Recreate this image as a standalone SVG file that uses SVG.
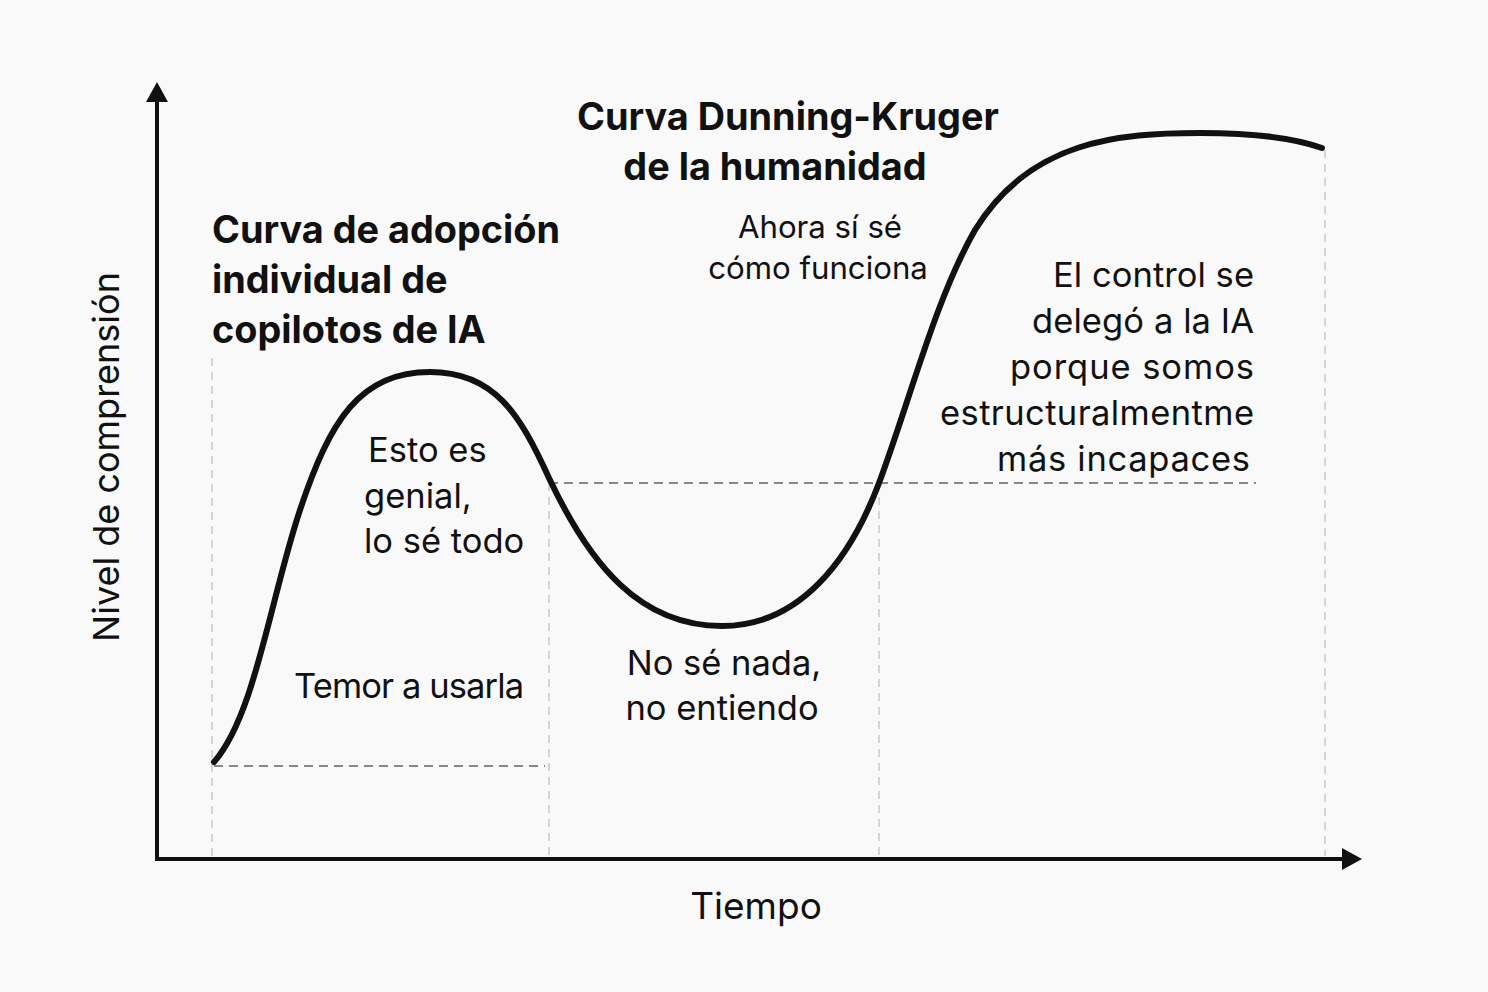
<svg xmlns="http://www.w3.org/2000/svg" width="1488" height="992" viewBox="0 0 1488 992">
<style>
.t{font-family:Inter,"Noto Sans","Liberation Sans",sans-serif;fill:#111}
.b{font-weight:700;font-size:37.8px}
.r{font-size:34.5px}
.s{font-size:31.2px}
.gd{stroke:#c8c8c8;stroke-width:1.5;stroke-dasharray:8 6;fill:none}
.gm{stroke:#888;stroke-width:2;stroke-dasharray:9 6;fill:none}
</style>
<rect width="1488" height="992" fill="#f9f9f9"/>
<g id="guides">
<line class="gd" x1="212" y1="358" x2="212" y2="856"/>
<line class="gd" x1="549" y1="483" x2="549" y2="856"/>
<line class="gd" x1="879" y1="483" x2="879" y2="856"/>
<line class="gd" x1="1325" y1="150" x2="1325" y2="856"/>
<line class="gm" x1="214" y1="766" x2="545" y2="766"/>
<line class="gm" x1="549" y1="483" x2="1256" y2="483"/>
</g>
<g id="axes" fill="none" stroke="#111" stroke-width="4">
<line x1="157" y1="860" x2="157" y2="100"/>
<path d="M146,102 L157,82 L168,102 z" fill="#111" stroke="none"/>
<line x1="155" y1="859" x2="1345" y2="859"/>
<path d="M1342,848 L1362,859 L1342,870 z" fill="#111" stroke="none"/>
</g>
<g id="curve">
<path d="M214,762 C255,715 270,600 300,510 C330,420 360,372 430,372 C495,372 520,415 549,478 C590,565 640,626 722,626 C800,626 850,560 879,483 C910,400 935,300 975,230 C1030,140 1120,133 1200,133 C1260,133 1300,140 1322,148" fill="none" stroke="#111" stroke-width="6" stroke-linecap="round"/>
</g>
<g id="title-dk">
<text class="t b" x="788" y="130" text-anchor="middle">Curva Dunning-Kruger</text>
<text class="t b" x="775" y="180" text-anchor="middle">de la humanidad</text>
</g>
<g id="title-adopcion">
<text class="t b" x="212" y="243">Curva de adopción</text>
<text class="t b" x="212" y="293">individual de</text>
<text class="t b" x="212" y="343">copilotos de IA</text>
</g>
<g id="label-ahora">
<text class="t s" x="820" y="238" text-anchor="middle">Ahora sí sé</text>
<text class="t s" x="818" y="279" text-anchor="middle">cómo funciona</text>
</g>
<g id="label-esto">
<text class="t r" x="368" y="462">Esto es</text>
<text class="t r" x="364" y="508">genial,</text>
<text class="t r" x="364" y="553">lo sé todo</text>
</g>
<g id="label-temor">
<text class="t r" x="294" y="698" textLength="230">Temor a usarla</text>
</g>
<g id="label-nose">
<text class="t r" x="724" y="675" text-anchor="middle">No sé nada,</text>
<text class="t r" x="722" y="720" text-anchor="middle">no entiendo</text>
</g>
<g id="label-control">
<text class="t r" x="1053" y="287" textLength="201">El control se</text>
<text class="t r" x="1032" y="333" textLength="222">delegó a la IA</text>
<text class="t r" x="1010" y="379" textLength="244">porque somos</text>
<text class="t r" x="940" y="425" textLength="314">estructuralmentme</text>
<text class="t r" x="997" y="471" textLength="253">más incapaces</text>
</g>
<g id="axis-labels">
<text class="t" x="756" y="919" text-anchor="middle" font-size="37">Tiempo</text>
<text class="t" transform="translate(119,457) rotate(-90)" text-anchor="middle" font-size="36">Nivel de comprensión</text>
</g>
</svg>
